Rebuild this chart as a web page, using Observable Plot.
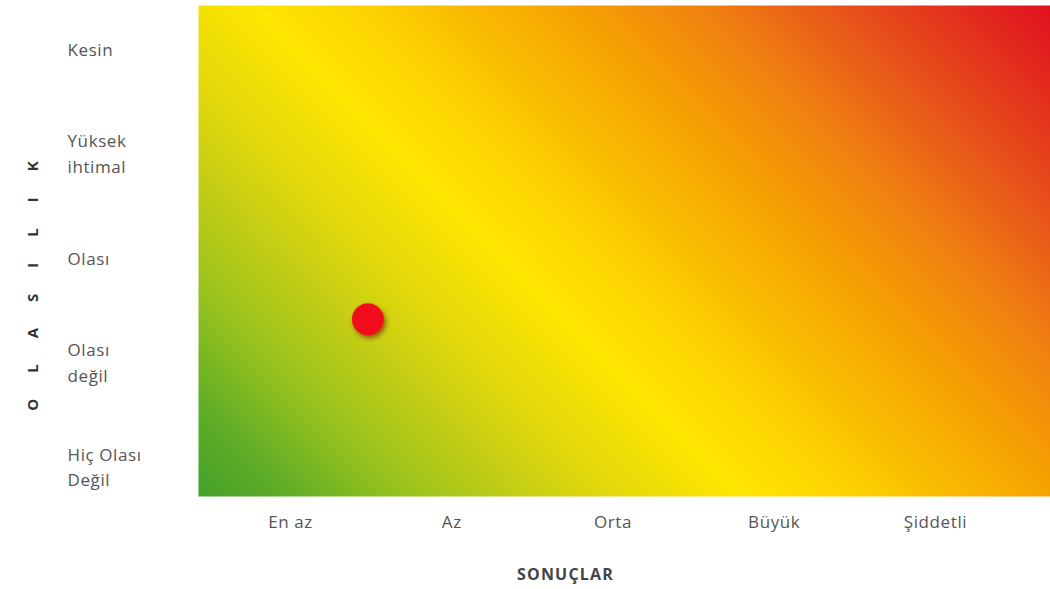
<!DOCTYPE html>
<html><head><meta charset="utf-8">
<script src="https://cdn.jsdelivr.net/npm/d3@7"></script>
<script src="https://cdn.jsdelivr.net/npm/@observablehq/plot@0.6"></script>
<style>
html,body{margin:0;padding:0;background:#fff;}
</style></head><body><div id="chart"></div>
<script>
// Categories (index 0 = lowest)
const consequences = ["En az", "Az", "Orta", "Büyük", "Şiddetli"];
const consequenceIdx = [0, 1, 2, 3, 4];
const likelihoods = ["Hiç Olası\nDeğil", "Olası\ndeğil", "Olası", "Yüksek\nihtimal", "Kesin"];
const likelihoodIdx = [0, 1, 2, 3, 4];
// Risk point (consequence index, likelihood index)
const riskX = [0.48];
const riskY = [1.4];
const xTitle = "SONUÇLAR";
const yTitle = "OLASILIK";
// Background gradient colour stops (offset, colour) from green to red
const gradOffsets = [0, 0.073, 0.155, 0.222, 0.304, 0.404, 0.49, 0.557, 0.635, 0.743, 0.855, 1];
const gradColors = ["#44a02c", "#62ae26", "#98c21e", "#bccb16", "#e0d70c", "#ffe600", "#fcd200", "#f9bb00", "#f6a400", "#f08010", "#e64d1a", "#e0101f"];

const W = 1050, H = 589;
const mL = 198, mR = 0, mT = 5, mB = 93;
const L = mL, R = W - mR, T = mT, B = H - mB;
const d = ((R - T) - (L - B)) / 2;

const gradientDefs = () => {
  const defs = d3.create("svg:defs");
  const g = defs.append("linearGradient")
    .attr("id", "riskGrad")
    .attr("gradientUnits", "userSpaceOnUse")
    .attr("x1", L).attr("y1", B)
    .attr("x2", L + d).attr("y2", B - d);
  gradOffsets.forEach((o, i) => g.append("stop").attr("offset", o).attr("stop-color", gradColors[i]));
  const f = defs.append("filter").attr("id", "dotShadow").attr("x", "-50%").attr("y", "-50%").attr("width", "200%").attr("height", "200%");
  f.append("feDropShadow").attr("dx", 2).attr("dy", 3).attr("stdDeviation", 2.5).attr("flood-color", "#5a0000").attr("flood-opacity", 0.55);
  return defs.node();
};

const risk = riskX.map((x, i) => ({x, y: riskY[i]}));

const chart = Plot.plot({
  width: W, height: H,
  marginLeft: mL, marginRight: mR, marginTop: mT, marginBottom: mB,
  style: {fontFamily: "'Open Sans', sans-serif", background: "#fff", letterSpacing: "0.6px"},
  x: {domain: [0, 4], range: [290, 935]},
  y: {domain: [0, 4], range: [465, 47]},
  marks: [
    gradientDefs,
    Plot.frame({fill: "url(#riskGrad)", stroke: "none"}),
    Plot.axisX(consequenceIdx, {anchor: "bottom", tickSize: 0, tickPadding: 19, tickFormat: i => consequences[i], fontSize: 17, fill: "#555", label: null}),
    Plot.axisY(likelihoodIdx, {anchor: "left", tickSize: 0, tickPadding: 131, textAnchor: "start", tickFormat: i => likelihoods[i], fontSize: 17, fill: "#555", label: null, lineHeight: 1.5}),
    Plot.dot(risk, {x: "x", y: "y", r: 16, fill: "#f2111c"}),
    Plot.text([yTitle], {frameAnchor: "left", dx: -165, dy: 22, rotate: -90, fontWeight: "bold", fontSize: 15, fill: "#333"}),
    Plot.text([xTitle], {frameAnchor: "bottom", dx: -59, dy: 83, fontWeight: "bold", fontSize: 16, fill: "#444"})
  ]
});
const sel = d3.select(chart);
sel.selectAll("circle").attr("filter", "url(#dotShadow)");
sel.selectAll("text").filter(function () { return this.textContent === yTitle; })
  .attr("letter-spacing", "26px").attr("text-anchor", "middle");
sel.selectAll("text").filter(function () { return this.textContent === xTitle; })
  .attr("letter-spacing", "1.2px");
document.getElementById("chart").appendChild(chart);
</script></body></html>
